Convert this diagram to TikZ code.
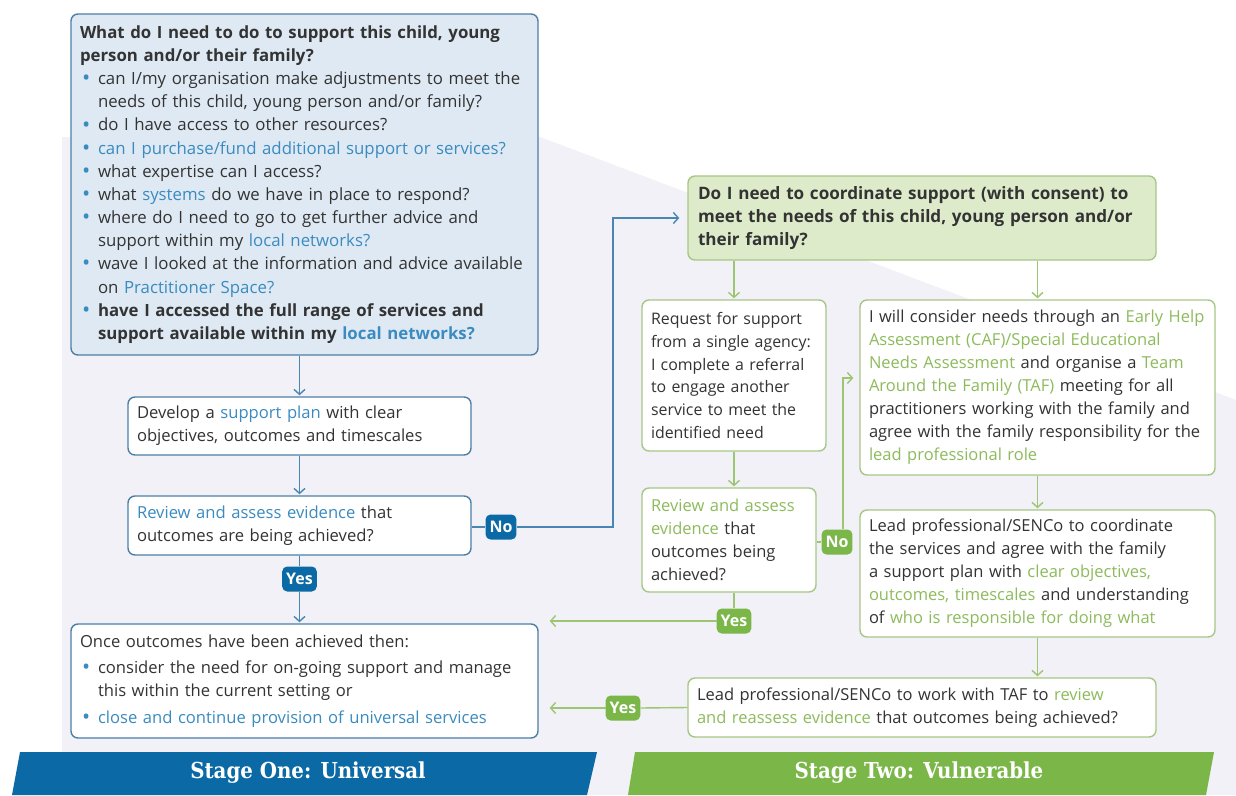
\documentclass[tikz,border=0pt]{standalone}
\usepackage{fontspec}
\usepackage{graphicx}
\setmainfont{Open Sans}
\newfontfamily\bannerfont{DejaVu Serif Condensed}
\usetikzlibrary{arrows.meta,calc}
\definecolor{bblue}{HTML}{3A8BC0}
\definecolor{bline}{HTML}{4A86B4}
\definecolor{bdark}{HTML}{0B6AA5}
\definecolor{bfill}{HTML}{DEE9F3}
\definecolor{bborder}{HTML}{4D7FA6}
\definecolor{gtext}{HTML}{8DBB5C}
\definecolor{gline}{HTML}{9DC673}
\definecolor{gdark}{HTML}{7AB648}
\definecolor{gfill}{HTML}{DDEBCB}
\definecolor{gborder}{HTML}{A7C784}
\definecolor{txt}{HTML}{333333}
\definecolor{lav}{HTML}{F1F1F7}
\newcommand\btx[1]{\textcolor{bblue}{#1}}
\newcommand\gtx[1]{\textcolor{gtext}{#1}}
\newcommand\ftQ{\fontsize{16.8}{23.15}\selectfont}
\newcommand\ftA{\fontsize{16.6}{23.15}\selectfont}
\newcommand\ftB{\fontsize{16.5}{23}\selectfont}
\newcommand\ftR{\fontsize{15.9}{22.8}\selectfont}
\newcommand\ftG{\fontsize{17.1}{23}\selectfont}
\newcommand\bulitem{\par\noindent\hangindent=18pt\hangafter=1\hspace*{2pt}\makebox[16pt][l]{\textcolor{bblue}{\raisebox{-0.12ex}{\scalebox{1.3}{\textbullet}}}}}
\tikzset{
  box/.style={draw, rounded corners=7pt, line width=1.4pt, fill=white, align=left,
    inner xsep=9pt, inner ysep=0pt, text=txt, anchor=center},
  bluebox/.style={box, draw=bborder},
  greenbox/.style={box, draw=gborder},
  lab/.style={rounded corners=5pt, text=white, font=\fontsize{16}{16}\selectfont\bfseries,
    inner xsep=4pt, inner ysep=2pt, minimum height=25pt},
  blab/.style={lab, fill=bdark},
  glab/.style={lab, fill=gdark},
  bcon/.style={draw=bline, line width=1.4pt},
  gcon/.style={draw=gline, line width=1.4pt},
  barr/.style={bcon, -{Straight Barb[length=5pt,width=11pt]}, shorten >=1pt},
  garr/.style={gcon, -{Straight Barb[length=5pt,width=11pt]}, shorten >=1pt},
  bannertext/.style={text=white, font=\bannerfont\bfseries\fontsize{22}{22}\selectfont}
}
\begin{document}
\begin{tikzpicture}[x=1pt,y=-1pt]
\useasboundingbox (0,0) rectangle (1236,795);
\fill[white] (0,0) rectangle (1236,795);
\fill[lav] (62,795) -- (62,137) -- (540,137) -- (1236,400) -- (1236,795) -- cycle;

% banners
\fill[bdark] (20,752) -- (597,752) -- (587,795) -- (12,795) -- cycle;
\fill[gdark] (635,752) -- (1214,752) -- (1206,795) -- (628,795) -- cycle;
\node[bannertext] (s1) at (308,773) {Stage One: Universal};
\node[bannertext] (s2) at (919,773) {Stage Two: Vulnerable};

% stage one boxes
\node[bluebox, fill=bfill, text width=449pt, minimum height=341pt, font=\ftQ] (Q1) at (304.5,184.5) {%
\textbf{What do I need to do to support this child, young\newline person and/or their family?}
\bulitem can I/my organisation make adjustments to meet the\newline needs of this child, young person and/or family?
\bulitem do I have access to other resources?
\bulitem \btx{can I purchase/fund additional support or services?}
\bulitem what expertise can I access?
\bulitem what \btx{systems} do we have in place to respond?
\bulitem where do I need to go to get further advice and\newline support within my \btx{local networks?}
\bulitem wave I looked at the information and advice available\newline on \btx{Practitioner Space?}
\bulitem \textbf{have I accessed the full range of services and\newline support available within my \btx{local networks?}}\par};

\node[bluebox, text width=325pt, minimum height=58pt, font=\ftA] (Dev) at (299.5,426) {%
Develop a \btx{support plan} with clear\\ objectives, outcomes and timescales};

\node[bluebox, text width=325pt, minimum height=59pt, font=\ftA] (Rev) at (299.5,525.5) {%
\btx{Review and assess evidence} that\\ outcomes are being achieved?};

\node[bluebox, text width=449pt, minimum height=114pt, font=\ftA] (Out) at (304.5,681) {%
\setlength{\parskip}{3pt}Once outcomes have been achieved then:
\bulitem consider the need for on-going support and manage\newline this within the current setting or
\bulitem \btx{close and continue provision of universal services}\par};

% stage two boxes
\node[greenbox, fill=gfill, inner xsep=10pt, text width=448pt, minimum height=84pt, font=\ftG] (Q2) at (922,218) {%
\textbf{Do I need to coordinate support (with consent) to\\ meet the needs of this child, young person and/or\\ their family?}};

\node[greenbox, text width=166pt, minimum height=151pt, font=\ftR] (Req) at (734,375.5) {%
Request for support\\ from a single agency:\\ I complete a referral\\ to engage another\\ service to meet the\\ identified need};

\node[greenbox, text width=337pt, minimum height=175pt, font=\ftB] (Iw) at (1037.5,387.5) {%
I will consider needs through an \gtx{Early Help}\\ \gtx{Assessment (CAF)/Special Educational}\\ \gtx{Needs Assessment} and organise a \gtx{Team}\\ \gtx{Around the Family (TAF)} meeting for all\\ practitioners working with the family and\\ agree with the family responsibility for the\\ \gtx{lead professional role}};

\node[greenbox, text width=156pt, minimum height=104pt, font=\ftB] (Rev2) at (729,540) {%
\gtx{Review and assess}\\ \gtx{evidence} that\\ outcomes being\\ achieved?};

\node[greenbox, text width=337pt, minimum height=127pt, font=\ftB] (Lead) at (1037.5,573.5) {%
Lead professional/SENCo to coordinate\\ the services and agree with the family\\ a support plan with \gtx{clear objectives,}\\ \gtx{outcomes, timescales} and understanding\\ of \gtx{who is responsible for doing what}};

\node[greenbox, text width=450pt, minimum height=59pt, font=\ftB] (TAF) at (922,707.5) {%
Lead professional/SENCo to work with TAF to \gtx{review}\\ \gtx{and reassess evidence} that outcomes being achieved?};

% labels
\node[blab] (yes1) at (299.5,579) {Yes};
\node[blab] (no1) at (501,527) {No};
\node[glab] (yes2) at (734,621) {Yes};
\node[glab] (no2) at (837,542) {No};
\node[glab] (yes3) at (623,708) {Yes};

% connectors stage one
\draw[barr] (Q1.south -| Dev.north) -- (Dev.north);
\draw[barr] (Dev.south) -- (Rev.north);
\draw[bcon] (Rev.south) -- (yes1.north);
\draw[barr] (yes1.south) -- (Out.north -| yes1.south);
\draw[bcon] (no1 -| Rev.east) -- (no1.west);
\coordinate (nx) at (613,527);
\draw[barr, shorten >=8pt] (no1.east) -- (nx) |- (Q2.west);

% connectors stage two
\draw[garr] (Q2.south -| Req.north) -- (Req.north);
\draw[garr] (Q2.south -| Iw.north) -- (Iw.north);
\draw[garr] (Req.south) -- (Req.south |- Rev2.north);
\draw[gcon] (Req.south |- Rev2.south) -- (yes2.north);
\draw[garr, shorten >=11pt] (yes2.west) -- (yes2 -| Out.east);
\draw[gcon] (no2 -| Rev2.east) -- (no2.west);
\coordinate (ny) at (843,378);
\draw[garr, shorten >=6pt] (no2.north -| ny) -- (ny) -- (ny -| Iw.west);
\draw[garr] (Iw.south) -- (Lead.north);
\draw[garr] (Lead.south) -- (Lead.south |- TAF.north);
\draw[gcon] (TAF.west) -- (yes3.east);
\draw[garr, shorten >=11pt] (yes3.west) -- (yes3 -| Out.east);
\end{tikzpicture}
\end{document}
